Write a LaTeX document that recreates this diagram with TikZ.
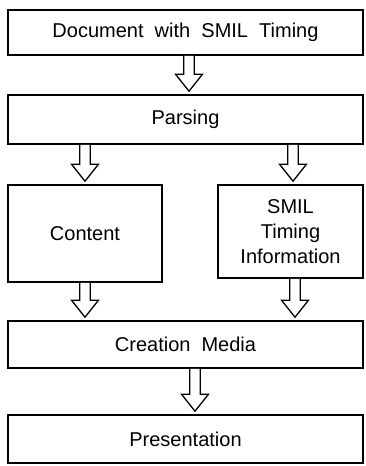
\documentclass[tikz,border=0pt]{standalone}
\usepackage{fontspec}
\setmainfont{Liberation Sans}
\usetikzlibrary{calc}

\tikzset{
  box/.style={draw=black, line width=1.6pt, fill=white, inner sep=0pt,
              font=\fontsize{20}{25}\selectfont, align=center},
  hollow/.style={draw=black, line width=1.3pt, fill=white, line join=miter}
}

% hollow block arrow pointing down: #1 = x position, #2 = source node, #3 = target node
\newcommand\hollowarrow[3]{%
  \draw[hollow] let \p1=(#2.south), \p2=(#3.north) in
    ({#1pt-5.3pt},\y1) -- ({#1pt-5.3pt},\y2+20pt) -- ({#1pt-13.5pt},\y2+20pt) --
    ({#1pt},\y2+3pt) -- ({#1pt+13.5pt},\y2+20pt) -- ({#1pt+5.3pt},\y2+20pt) --
    ({#1pt+5.3pt},\y1);}

\begin{document}
\begin{tikzpicture}[x=1pt,y=1pt]
  \useasboundingbox[fill=white] (0,0) rectangle (366,466);

  \node[box, minimum width=355pt, minimum height=45pt] (doc)   at (185.5,433.5) {Document\ \ with\ \ SMIL\ \ Timing};
  \node[box, minimum width=355pt, minimum height=49pt] (parse) at (185.5,346.5) {Parsing};
  \node[box, minimum width=154pt, minimum height=97pt] (cont)  at (85,232.5) {Content};
  \node[box, minimum width=145pt, minimum height=93pt] (smil)  at (290.5,234.5) {SMIL\\Timing\\Information};
  \node[box, minimum width=355pt, minimum height=47pt] (media) at (185.5,121.5) {Creation\ \ Media};
  \node[box, minimum width=355pt, minimum height=48pt] (pres)  at (185.5,27) {Presentation};

  \hollowarrow{189}{doc}{parse}
  \hollowarrow{85}{parse}{cont}
  \hollowarrow{293}{parse}{smil}
  \hollowarrow{85}{cont}{media}
  \hollowarrow{295}{smil}{media}
  \hollowarrow{195}{media}{pres}
\end{tikzpicture}
\end{document}
